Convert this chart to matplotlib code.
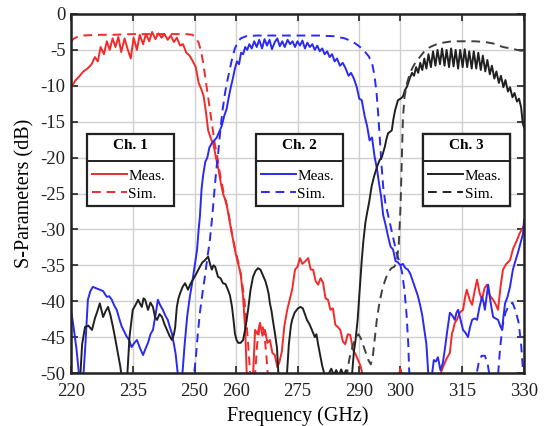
# -*- coding: utf-8 -*-
"""
S-parameter plot of the 3-channel diplexer/triplexer (meas. vs. sim.)
"""

# %% imports

import matplotlib
matplotlib.use('Agg')
from matplotlib import pyplot as plt
from matplotlib.lines import Line2D

# %% data

freq_ticks = [220, 235, 250, 260, 275, 290, 300, 315, 330]
db_ticks = [0, -5, -10, -15, -20, -25, -30, -35, -40, -45, -50]

# Ch. 1 measured
ch1_meas_f = [220, 221, 222, 223, 224, 225, 225.8, 226.5, 227.2, 228, 228.7, 229.4, 230.1, 230.8,
              231.5, 232.2, 233, 233.7, 234.5, 235.2, 236, 236.7, 237.5, 238.2, 239, 239.7, 240.5,
              241.2, 242, 242.7, 243.5, 244.2, 245, 245.7, 246.5, 247.2, 248, 248.8, 249.6, 250.3,
              251, 251.6, 252.2, 252.8, 253.3, 254, 254.6, 255.2, 255.8, 256.4, 257, 257.6, 258.2,
              258.8, 259.4, 260, 260.6, 261.2, 261.8, 262.3, 262.7, 263.5, 264.2, 264.7, 265.3,
              265.9, 266.5, 267.1, 267.7, 268.3, 268.9, 269.5, 270.1, 270.6, 271.2, 271.8, 272.5,
              273.1, 273.7, 274.4, 275, 275.6, 276.2, 276.8, 277.6, 278.2, 278.8, 279.4, 280, 280.6,
              281.2, 281.8, 282.4, 283, 283.6, 284.2, 284.8, 285.4, 286, 286.6, 287.2, 287.8, 288.5,
              289.1, 289.7, 290.3, 290.9, 295, 299.5, 300, 300.5, 308, 309.5, 310.3, 311.2, 312,
              312.5, 312.8, 313.2, 313.7, 314.4, 315.2, 315.7, 316.1, 316.8, 317.4, 318, 318.6,
              319.2, 319.8, 320.4, 321, 321.7, 322.5, 323.1, 323.7, 324.3, 324.9, 325.7, 326.6,
              327.4, 328.3, 328.9, 329.5, 330]
ch1_meas_db = [-10.3, -9.3, -8.7, -8.0, -7.6, -7.0, -6.0, -6.6, -4.6, -5.6, -3.8, -5.0, -3.4, -4.6,
               -3.2, -5.3, -3.4, -4.8, -6.2, -3.3, -5.0, -2.9, -4.2, -2.8, -3.8, -2.5, -3.5,
               -2.7, -3.3, -2.8, -3.6, -3.0, -3.9, -3.3, -4.4, -4.2, -5.4, -5.8, -6.6, -7.4,
               -9.6, -10.4, -11.4, -13.8, -16.2, -17.4, -18.2, -20.0, -21.6, -23.6, -25.2, -26.0, -27.8,
               -29.8, -31.6, -33.4, -34.8, -36.2, -39.5, -44, -50.5, -51, -50.5, -44, -44.6,
               -43, -44.8, -44, -45.8, -45.4, -47.2, -47.5, -49.2, -48.5, -47, -43.5, -41.2,
               -39.8, -38.4, -35.6, -35.2, -34, -34.8, -34.5, -34, -35.6, -35.6, -37.2, -37.7, -36.8,
               -37.4, -39.6, -39.8, -41.2, -41, -43.3, -43.6, -44, -45.6, -46, -44.6, -44.7, -46.8,
               -47.4, -48.2, -49, -50.5, -51, -50.5, -49.4, -50.5, -51, -50.5, -49.2, -48, -47.2,
               -44.5, -44, -43, -42.6, -41.6, -41.2, -39.4, -38.4, -39.8, -40.5, -38.6, -37,
               -38.8, -39.8, -38.2, -37.7, -39.2, -39.8, -40.4, -41.2, -38, -35.6, -34.8, -34.3,
               -32.6, -31.5, -30.6, -30, -29.4]

# Ch. 1 simulated
ch1_sim_f = [220, 220.5, 221.5, 223, 226, 230, 235, 240, 245, 248, 249.5, 250.3, 251, 251.6, 252.1,
             252.6, 253.1, 253.7, 254.3, 254.9, 255.5, 256.1, 256.7, 257.3, 257.9, 258.5, 259.1,
             259.7, 260.3, 260.9, 261.5, 262.1, 262.7, 263.2, 263.6, 264.6, 265.2, 265.8, 266.4,
             267, 267.5, 267.9, 330]
ch1_sim_db = [-3.9, -3.5, -3.2, -3.0, -2.9, -2.9, -2.8, -2.8, -2.8, -2.8, -2.9, -3.3, -4.0, -5.2, -6.8,
              -8.8, -10.8, -13.2, -15.6, -18.0, -19.8, -22.0, -23.8, -25.6, -26.8, -28.6, -30.6,
              -32.4, -33.8, -35.2, -37.2, -39.8, -43.5, -47.5, -51, -51, -46, -43.6, -43.2,
              -44.8, -48, -51, -51]

# Ch. 2 measured
ch2_meas_f = [220, 220.6, 221.3, 222, 223, 223.5, 224.1, 224.7, 225.3, 226.1, 227, 227.8, 228.7, 229.3,
              229.9, 230.5, 231.1, 231.7, 232.3, 232.9, 233.5, 234.1, 234.7, 235.4, 236, 236.8, 237.5,
              238.1, 238.7, 239.3, 239.9, 240.5, 241.1, 241.7, 242.3, 242.9, 243.5, 244, 244.5, 245,
              245.4, 246, 247, 247.6, 248.2, 248.8, 249.4, 250, 250.6, 251, 251.3, 251.7, 252.1,
              252.6, 253.1, 253.6, 254.2, 254.8, 255.4, 256, 256.6, 257.2, 257.8, 258.3, 258.8,
              259.3, 259.8, 260.3, 260.8, 261.3, 261.8, 262.3, 262.8, 263.3, 263.9, 264.5, 265.1,
              265.7, 266.4, 267, 267.6, 268.2, 268.8, 269.5, 270.1, 270.7, 271.3, 271.9, 272.6,
              273.2, 273.8, 274.4, 275, 275.6, 276.2, 276.8, 277.4, 278, 278.6, 279.2, 279.8, 280.4,
              281, 281.6, 282.2, 282.8, 283.4, 284, 284.6, 285.3, 286, 286.7, 287.4, 288, 288.7,
              289.4, 290, 290.6, 291.3, 291.9, 292.5, 293.1, 293.7, 294.3, 294.8, 295.3, 295.8,
              296.4, 297, 297.6, 298.2, 298.8, 299.4, 300, 300.6, 301.2, 301.8, 302.4, 303, 303.6,
              304.2, 304.8, 305.3, 305.8, 306.3, 306.8, 307.6, 308.1, 308.6, 309.1, 309.7, 310.3,
              310.8, 311.3, 311.7, 312, 312.6, 313.2, 313.6, 314, 314.6, 315.2, 315.8, 316.4, 316.9,
              317.4, 318, 318.6, 319.2, 319.8, 320.2, 320.5, 320.9, 321.3, 321.9, 322.5, 323.1,
              323.7, 324.2, 324.7, 325, 325.4, 326, 326.6, 327, 327.3, 327.9, 328.5, 329.2, 329.8, 330]
ch2_meas_db = [-41.2, -43.5, -46.5, -50.5, -50.5, -46, -39.8, -38.6, -38, -38.2, -38.4, -38.6, -39.4, -39.3,
               -39.8, -40.6, -41.2, -42.4, -43.5, -44.2, -44.9, -45.4, -46.4, -45.8, -45.4, -46.6, -47.5,
               -46.6, -45.8, -44.6, -44, -42, -39.8, -40.6, -41.2, -42, -42.6, -43.6, -44.5, -46,
               -47.3, -50.5, -50.5, -46, -42.2, -39.6, -37.5, -35.2, -32.9, -30, -28.2, -24.4, -22.4,
               -20.6, -20.0, -18.6, -18.0, -17.6, -17.2, -16.4, -15.6, -14.2, -13.2, -11.6, -10.2,
               -9.0, -7.6, -6.6, -7.0, -5.4, -5.6, -4.6, -5.0, -4.2, -4.8, -3.8, -4.6,
               -3.6, -4.8, -3.5, -4.4, -3.6, -4.9, -3.9, -3.4, -4.5, -3.8, -4.6, -3.6,
               -4.2, -3.8, -4.6, -3.8, -4.4, -3.7, -4.8, -4.0, -4.6, -4.2, -5.0, -4.4, -5.2,
               -4.8, -5.6, -5.2, -6.0, -5.6, -6.6, -6.2, -7.2, -6.8, -7.6, -8.6, -8.2, -9.0,
               -10.2, -11.8, -12.0, -14.2, -15.6, -17.6, -17.2, -19.8, -21.6, -23.6, -25.4, -28.0,
               -29.4, -31.0, -32.4, -32.8, -34.4, -34.6, -35.0, -34.8, -35.4, -35.6, -36.2, -37.2, -38.2,
               -39.2, -40.6, -42.0, -44.0, -46.0, -50.5, -50.5, -48.2, -48.4, -47.8, -49.6, -48.6,
               -46.6, -44.4, -42.8, -41.6, -42.0, -42.6, -41.6, -41.2, -42.6, -44.0, -44.4, -45.0, -43.6,
               -42.6, -42.4, -42.6, -40.8, -39.4, -40.2, -41.2, -39.4, -37.7, -40.2, -42.2, -42.4,
               -42.6, -43.4, -44.0, -42.2, -40.3, -39.4, -38.0, -36.6, -35.6, -34.4, -33.3, -31.8, -30.5, -28.7]

# Ch. 2 simulated
ch2_sim_f = [220, 249.7, 250.3, 250.8, 251.3, 251.9, 252.5, 253.1, 253.7, 254.3, 254.8, 255.3, 255.8,
             256.3, 256.8, 257.4, 258, 258.6, 259.2, 259.8, 260.5, 261.2, 262.5, 265, 270, 275, 280,
             284, 286.5, 288.5, 290, 291.3, 292.3, 293.1, 293.7, 294.2, 294.6, 295, 295.4, 295.8,
             296.3, 297, 297.7, 298.4, 299.1, 299.8, 300.4, 301, 301.5, 301.9, 302.2, 318.2, 319,
             319.7, 320.5, 321.2, 321.8, 323.6, 324.2, 324.8, 325.5, 326.3, 327.2, 328, 328.7,
             329.3, 329.8, 330]
ch2_sim_db = [-51, -51, -48, -44.5, -41.6, -39.0, -36.6, -34.0, -31.6, -28.2, -24.8, -21.6, -19.0,
              -16.0, -13.4, -11.0, -9.2, -7.6, -6.0, -4.8, -3.9, -3.4, -3.1, -3.0, -3.0, -3.0, -3.0,
              -3.1, -3.4, -3.9, -4.5, -5.2, -5.9, -6.8, -8.6, -11.0, -14.0, -17.5, -21.0, -24.0,
              -26.2, -28.0, -29.8, -31.6, -33.4, -34.6, -36.0, -38.6, -42.0, -46.0, -51, -51, -48.6,
              -47.6, -47.6, -48.8, -51, -51, -46.5, -43.4, -41.6, -40.6, -40.2, -41.4, -43.0,
              -46.0, -50.0, -51]

# Ch. 3 measured
ch3_meas_f = [220, 222.2, 222.7, 223.4, 224.2, 225.1, 225.8, 226.4, 227, 227.8, 228.4, 229, 229.6, 230.2,
              230.8, 231.4, 232, 232.4, 233.6, 234.2, 235, 235.6, 236.3, 236.8, 237.2, 237.6, 238,
              238.7, 239.3, 239.9, 240.4, 240.9, 241.5, 242.1, 242.7, 243.3, 243.9, 244.5, 245,
              245.3, 245.7, 246.1, 246.5, 247.1, 247.7, 248.4, 249, 249.6, 250.4, 251.3, 251.9,
              252.5, 253.3, 253.8, 254.2, 254.6, 255, 255.7, 256.3, 256.9, 257.5, 258.1, 258.6,
              259.1, 259.5, 259.8, 260.2, 260.6, 261.2, 261.8, 262.4, 263, 263.6, 264.2, 264.8,
              265.4, 266, 266.6, 267.2, 267.6, 268, 268.3, 268.7, 269, 269.5, 270, 270.4, 272.4,
              272.9, 273.4, 273.7, 274.3, 275.1, 275.7, 276.3, 276.8, 277.3, 277.9, 278.5, 279.2,
              279.6, 280, 280.5, 281, 281.7, 282.5, 283.2, 283.8, 284.4, 285, 285.6, 286.2, 286.8,
              287.4, 288.2, 288.7, 289.1, 289.6, 290.1, 290.6, 291, 291.5, 291.9, 292.4, 293, 293.6,
              294.3, 294.9, 295.5, 296.2, 296.6, 297, 297.5, 297.9, 298.3, 298.7, 299, 299.4, 300,
              300.6, 301.1, 301.6, 302, 302.3, 302.8, 303.3, 303.8, 304.3, 304.8, 305.3, 305.8,
              306.3, 306.8, 307.4, 307.9, 308.5, 309, 309.6, 310.1, 310.7, 311.2, 311.8, 312.3,
              312.9, 313.4, 314, 314.5, 315.1, 315.6, 316.2, 316.7, 317.3, 317.8, 318.4, 318.9,
              319.5, 320, 320.6, 321.1, 321.7, 322.2, 322.8, 323.3, 323.9, 324.4, 325, 325.5,
              326.1, 326.6, 327.2, 327.7, 328.3, 328.8, 329.3, 329.7, 330]
ch3_meas_db = [-51, -51, -46, -43.6, -43.4, -44, -42.4, -41.4, -40.3, -42.2, -41.4, -40.8, -42.0, -43.6,
               -45.4, -47.3, -49.2, -51, -51, -45, -41.2, -40.6, -39.8, -40.4, -40.8, -39.6, -39.8,
               -41.2, -40.2, -40.8, -42.2, -42.6, -41.8, -42.2, -43.2, -44.0, -44.8, -45.4, -44.6,
               -43.6, -40.8, -39.6, -38.9, -38.0, -37.5, -38.4, -37.6, -37.0, -36.2, -35.2, -34.6,
               -34.3, -33.8, -34.9, -35.6, -35.0, -35.2, -36.6, -36.8, -37.5, -37.6, -38.4, -39.2,
               -40.8, -42.8, -44.5, -45.4, -45.8, -45.8, -45.4, -43.6, -41.2, -38.4, -36.6, -35.8,
               -35.4, -35.6, -36.4, -37.2, -38.0, -39.0, -40.3, -41.4, -42.6, -44.4, -46.4, -50.5, -50.5,
               -46, -43.4, -42.6, -41.6, -41.0, -40.8, -41.0, -41.8, -42.6, -43.2, -44.0, -45.0,
               -44.6, -46.0, -47.5, -49.0, -50.5, -50.2, -49.4, -50.3, -49.6, -50.4, -49.5, -50.3, -49.6,
               -50.4, -50.5, -47, -45.4, -42.6, -38.4, -34.3, -31.6, -29.0, -27.7, -26.2, -24.0, -22.6,
               -21.3, -20.4, -19.9, -18.5, -17.4, -16.6, -16.4, -16.2, -14.6, -13.4, -12.8, -12.0, -11.8,
               -11.5, -10.6, -10.1, -9.4, -8.9, -8.2, -8.6, -7.4, -8.2, -6.8, -7.8, -6.2,
               -7.6, -5.6, -7.4, -5.2, -7.2, -5.0, -7.0, -4.8, -7.2, -5.0, -7.4, -4.8,
               -7.3, -5.0, -7.6, -5.0, -7.4, -4.9, -7.4, -5.2, -7.6, -5.2, -7.6, -5.4,
               -7.8, -5.8, -8.0, -6.4, -8.4, -7.2, -9.0, -8.0, -9.6, -8.6, -10.2, -9.2,
               -10.8, -10.2, -11.6, -11.0, -12.2, -11.8, -13.0, -15.2, -15.8]

# Ch. 3 simulated
ch3_sim_f = [220, 286.8, 287.6, 288.4, 289.2, 289.8, 290.4, 291, 291.6, 292.2, 292.8, 293.3, 293.8,
             294.3, 294.9, 295.5, 296.2, 297, 297.8, 298.5, 299.1, 299.6, 300, 300.3, 300.6, 301,
             301.6, 302.3, 303, 303.8, 304.7, 305.8, 307.2, 308.8, 310.3, 312.5, 315, 318, 320.5,
             322.5, 324.9, 326.8, 328.3, 330]
ch3_sim_db = [-51, -51, -48.0, -46.2, -45.0, -44.6, -45.2, -46.2, -47.2, -48.2, -48.8, -47.6, -45.0,
              -42.4, -40.2, -38.6, -37.2, -36.0, -35.4, -35.2, -34.6, -32.0, -27.0, -21.0, -14.5, -11.5,
              -9.6, -8.3, -7.4, -6.6, -6.0, -5.2, -4.6, -4.2, -4.0, -3.8, -3.8, -3.8, -3.9,
              -4.1, -4.6, -4.8, -5.0, -5.2]

# %% config

plt.rc('font', family='Liberation Serif', size=13)
plt.rc('axes', unicode_minus=False)

red = '#f22a2a'
blue = '#2a2af2'
black = '#202020'
dash = (0, (4.5, 3))

# %% plot

fig = plt.figure(figsize=(5.46, 4.26), dpi=100)
ax = fig.add_axes([71 / 546, 1 - 373 / 426, 453 / 546, 359 / 426])

ax.plot(ch1_meas_f, ch1_meas_db, color=red, lw=1.4)
ax.plot(ch1_sim_f, ch1_sim_db, color=red, lw=1.4, ls=dash)
ax.plot(ch2_meas_f, ch2_meas_db, color=blue, lw=1.4)
ax.plot(ch2_sim_f, ch2_sim_db, color=blue, lw=1.4, ls=dash)
ax.plot(ch3_meas_f, ch3_meas_db, color=black, lw=1.4)
ax.plot(ch3_sim_f, ch3_sim_db, color='#404040', lw=1.4, ls=dash)

ax.set_xlim(220, 330)
ax.set_ylim(-50, 0)
ax.set_xticks(freq_ticks)
ax.set_yticks(db_ticks)
ax.grid(True, color='#d0d0d0', lw=1.0)
ax.set_axisbelow(True)
ax.tick_params(direction='in', top=True, right=True, length=5, width=1.2,
               labelsize=13.5, colors='#222222')
ax.tick_params(axis='x', pad=7)
ax.tick_params(axis='y', pad=4)
for s in ax.spines.values():
    s.set_linewidth(1.8)
    s.set_color('#222222')

ax.set_xlabel('Frequency (GHz)', fontsize=14.5, labelpad=5)
ax.set_ylabel('S-Parameters (dB)', fontsize=14.5, labelpad=4)

# %% legends (one box per channel)

boxes = [('Ch. 1', red, 0.035), ('Ch. 2', blue, 0.408), ('Ch. 3', black, 0.777)]
legends = []
for title, col, x0 in boxes:
    h = [Line2D([], [], color=col, lw=1.4), Line2D([], [], color=col, lw=1.4, ls=dash)]
    leg = ax.legend(h, ['Meas.', 'Sim.'], title=title, loc='upper left',
                    bbox_to_anchor=(x0, 0.665, 0.192, 0), mode='expand',
                    fontsize=11, title_fontproperties={'weight': 'bold', 'size': 11},
                    handlelength=2.3, handletextpad=0.1, borderpad=0.32,
                    labelspacing=0.3, borderaxespad=0, fancybox=False,
                    framealpha=1, edgecolor='#222222')
    leg._legend_box.sep = 12  # wider gap under the title
    leg.get_frame().set_linewidth(1.6)
    ax.add_artist(leg)
    legends.append(leg)

# separator under each legend title
fig.canvas.draw()
inv = fig.transFigure.inverted()
for leg in legends:
    fr = leg.get_frame().get_window_extent()
    tb = leg.get_title().get_window_extent()
    t0 = leg.get_texts()[0].get_window_extent()
    y = 0.5 * (tb.y0 + t0.y1)
    (x0, y0), (x1, _) = inv.transform([(fr.x0, y), (fr.x1, y)])
    fig.add_artist(Line2D([x0, x1], [y0, y0], color='#222222', lw=1.4,
                          transform=fig.transFigure))

plt.savefig('out.png', dpi=100)
